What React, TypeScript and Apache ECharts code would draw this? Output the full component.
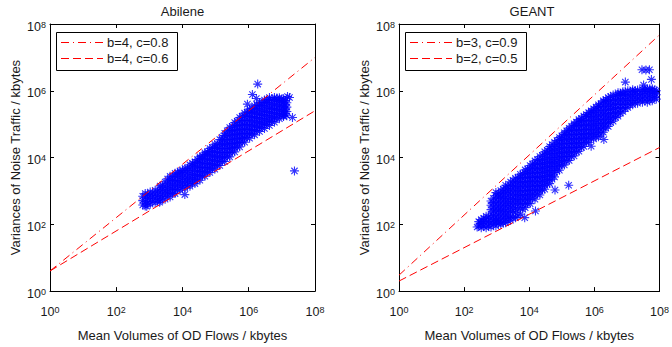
import React, { useEffect, useRef } from "react";
import * as echarts from "echarts";

// ---- data (log10 units) ----
// columns: [log10(mean volume), [log10(variance) ...]]
const abileneColumns: [number, number[]][] = [
  [2.8, [2.58, 2.71, 2.84]],
  [2.95, [2.64, 2.77, 2.9]],
  [3.1, [2.68, 2.81, 2.94]],
  [3.25, [2.73, 2.86, 2.99]],
  [3.4, [2.78, 2.91, 3.04, 3.17]],
  [3.55, [2.84, 2.97, 3.1, 3.23, 3.36]],
  [3.7, [2.92, 3.05, 3.18, 3.31, 3.44]],
  [3.85, [3.04, 3.17, 3.3, 3.43, 3.54]],
  [4.0, [3.11, 3.24, 3.37, 3.5, 3.61]],
  [4.15, [3.16, 3.29, 3.42, 3.55, 3.68]],
  [4.3, [3.23, 3.36, 3.49, 3.62, 3.75, 3.83]],
  [4.45, [3.33, 3.46, 3.59, 3.72, 3.85, 3.94]],
  [4.6, [3.44, 3.57, 3.7, 3.83, 3.96, 4.05]],
  [4.75, [3.56, 3.69, 3.82, 3.95, 4.08, 4.17]],
  [4.9, [3.66, 3.79, 3.92, 4.05, 4.18, 4.31]],
  [5.05, [3.76, 3.89, 4.02, 4.15, 4.28, 4.41]],
  [5.2, [3.88, 4.01, 4.14, 4.27, 4.4, 4.53, 4.61]],
  [5.35, [4.02, 4.15, 4.28, 4.41, 4.54, 4.67, 4.8]],
  [5.5, [4.16, 4.29, 4.42, 4.55, 4.68, 4.81, 4.94]],
  [5.65, [4.31, 4.44, 4.57, 4.7, 4.83, 4.96, 5.09]],
  [5.8, [4.46, 4.59, 4.72, 4.85, 4.98, 5.11, 5.24]],
  [5.95, [4.6, 4.73, 4.86, 4.99, 5.12, 5.25, 5.36]],
  [6.1, [4.71, 4.84, 4.97, 5.1, 5.23, 5.36, 5.47]],
  [6.25, [4.81, 4.94, 5.07, 5.2, 5.33, 5.46, 5.57]],
  [6.4, [4.9, 5.03, 5.16, 5.29, 5.42, 5.55, 5.65]],
  [6.55, [4.99, 5.12, 5.25, 5.38, 5.51, 5.64, 5.73]],
  [6.7, [5.08, 5.21, 5.34, 5.47, 5.6, 5.73]],
  [6.85, [5.18, 5.31, 5.44, 5.57, 5.7, 5.78]],
  [7.0, [5.27, 5.4, 5.53, 5.66, 5.75]],
  [7.1, [5.32, 5.45, 5.58, 5.71]],
];
const abileneColumnsMid: [number, number[]][] = [
  [2.875, [2.55, 2.68, 2.81, 2.92]],
  [3.025, [2.6, 2.73, 2.86, 2.97]],
  [3.175, [2.65, 2.78, 2.91, 3.02]],
  [3.325, [2.7, 2.83, 2.96, 3.09, 3.15]],
  [3.475, [2.75, 2.88, 3.01, 3.14, 3.27]],
  [3.625, [2.82, 2.95, 3.08, 3.21, 3.34, 3.44]],
  [3.775, [2.92, 3.05, 3.18, 3.31, 3.44, 3.53]],
  [3.925, [3.02, 3.15, 3.28, 3.41, 3.54, 3.6]],
  [4.075, [3.08, 3.21, 3.34, 3.47, 3.6, 3.68]],
  [4.225, [3.14, 3.27, 3.4, 3.53, 3.66, 3.78]],
  [4.375, [3.22, 3.35, 3.48, 3.61, 3.74, 3.87]],
  [4.525, [3.32, 3.45, 3.58, 3.71, 3.84, 3.97, 4.02]],
  [4.675, [3.44, 3.57, 3.7, 3.83, 3.96, 4.09, 4.14]],
  [4.825, [3.55, 3.68, 3.81, 3.94, 4.07, 4.2, 4.27]],
  [4.975, [3.65, 3.78, 3.91, 4.04, 4.17, 4.3, 4.4]],
  [5.125, [3.76, 3.89, 4.02, 4.15, 4.28, 4.41, 4.54]],
  [5.275, [3.88, 4.01, 4.14, 4.27, 4.4, 4.53, 4.66, 4.73]],
  [5.425, [4.02, 4.15, 4.28, 4.41, 4.54, 4.67, 4.8, 4.9]],
  [5.575, [4.17, 4.3, 4.43, 4.56, 4.69, 4.82, 4.95, 5.05]],
  [5.725, [4.32, 4.45, 4.58, 4.71, 4.84, 4.97, 5.1, 5.2]],
  [5.875, [4.46, 4.59, 4.72, 4.85, 4.98, 5.11, 5.24, 5.33]],
  [6.025, [4.58, 4.71, 4.84, 4.97, 5.1, 5.23, 5.36, 5.45]],
  [6.175, [4.68, 4.81, 4.94, 5.07, 5.2, 5.33, 5.46, 5.55]],
  [6.325, [4.78, 4.91, 5.04, 5.17, 5.3, 5.43, 5.56, 5.64]],
  [6.475, [4.87, 5.0, 5.13, 5.26, 5.39, 5.52, 5.65, 5.72]],
  [6.625, [4.96, 5.09, 5.22, 5.35, 5.48, 5.61, 5.74, 5.8]],
  [6.775, [5.06, 5.19, 5.32, 5.45, 5.58, 5.71, 5.8]],
  [6.925, [5.16, 5.29, 5.42, 5.55, 5.68, 5.79]],
  [7.05, [5.25, 5.38, 5.51, 5.64, 5.76]],
  [7.15, [5.25, 5.38, 5.51, 5.64]],
];
const abileneOutliers: [number, number][] = [
  [6.27, 6.2], [6.11, 5.89], [6.23, 5.77], [5.96, 5.6], [7.38, 3.6],
  [7.23, 5.8], [7.32, 5.2], [7.05, 5.23], [4.07, 2.89], [2.92, 2.54],
  [3.31, 2.66], [7.17, 5.83],
];

const geantColumns: [number, number[]][] = [
  [2.45, [1.95, 2.08]],
  [2.6, [1.95, 2.08, 2.18]],
  [2.75, [1.95, 2.08, 2.21]],
  [2.9, [2.0, 2.13, 2.26, 2.39, 2.52, 2.65, 2.78]],
  [3.05, [2.02, 2.15, 2.28, 2.41, 2.54, 2.67, 2.8, 2.92]],
  [3.2, [2.05, 2.18, 2.31, 2.44, 2.57, 2.7, 2.83, 2.96, 3.06]],
  [3.35, [2.1, 2.23, 2.36, 2.49, 2.62, 2.75, 2.88, 3.01, 3.14]],
  [3.5, [2.2, 2.4, 2.55, 2.68, 2.81, 2.94, 3.07, 3.2, 3.32]],
  [3.65, [2.25, 2.45, 2.62, 2.75, 2.88, 3.01, 3.14, 3.27, 3.4]],
  [3.8, [2.45, 2.6, 2.73, 2.86, 2.99, 3.12, 3.25, 3.38, 3.51]],
  [3.95, [2.62, 2.75, 2.88, 3.01, 3.14, 3.27, 3.4, 3.53, 3.66]],
  [4.1, [2.78, 2.91, 3.04, 3.17, 3.3, 3.43, 3.56, 3.69, 3.81]],
  [4.25, [2.9, 3.03, 3.16, 3.29, 3.42, 3.55, 3.68, 3.81, 3.94]],
  [4.4, [3.03, 3.16, 3.29, 3.42, 3.55, 3.68, 3.81, 3.94, 4.07]],
  [4.55, [3.2, 3.33, 3.46, 3.59, 3.72, 3.85, 3.98, 4.11, 4.22]],
  [4.7, [3.35, 3.48, 3.61, 3.74, 3.87, 4.0, 4.13, 4.26, 4.39]],
  [4.85, [3.6, 3.73, 3.86, 3.99, 4.12, 4.25, 4.38, 4.51]],
  [5.0, [3.77, 3.9, 4.03, 4.16, 4.29, 4.42, 4.55, 4.65]],
  [5.15, [3.9, 4.03, 4.16, 4.29, 4.42, 4.55, 4.68, 4.8]],
  [5.3, [4.03, 4.16, 4.29, 4.42, 4.55, 4.68, 4.81, 4.94]],
  [5.45, [4.17, 4.3, 4.43, 4.56, 4.69, 4.82, 4.95, 5.06]],
  [5.6, [4.3, 4.43, 4.56, 4.69, 4.82, 4.95, 5.08, 5.17]],
  [5.75, [4.45, 4.58, 4.71, 4.84, 4.97, 5.1, 5.23, 5.29]],
  [5.9, [4.58, 4.71, 4.84, 4.97, 5.1, 5.23, 5.36, 5.4]],
  [6.05, [4.63, 4.76, 4.89, 5.02, 5.15, 5.28, 5.41, 5.51]],
  [6.2, [4.7, 4.83, 4.96, 5.09, 5.22, 5.35, 5.48, 5.61]],
  [6.35, [4.88, 5.01, 5.14, 5.27, 5.4, 5.53, 5.66, 5.74]],
  [6.5, [5.05, 5.18, 5.31, 5.44, 5.57, 5.7, 5.83]],
  [6.65, [5.2, 5.33, 5.46, 5.59, 5.72, 5.85]],
  [6.8, [5.33, 5.46, 5.59, 5.72, 5.85, 5.92]],
  [6.95, [5.46, 5.59, 5.72, 5.85, 5.97]],
  [7.1, [5.58, 5.71, 5.84, 5.97]],
  [7.25, [5.65, 5.78, 5.91, 6.0]],
  [7.4, [5.72, 5.85, 5.98]],
  [7.55, [5.72, 5.85, 5.98, 6.05]],
  [7.7, [5.72, 5.85, 5.98, 6.06]],
  [7.85, [5.8, 5.93, 6.02]],
];
const geantColumnsMid: [number, number[]][] = [
  [2.525, [1.9, 2.02, 2.14]],
  [2.675, [1.9, 2.02, 2.15, 2.24]],
  [2.825, [1.92, 2.05, 2.18, 2.31, 2.44, 2.57, 2.7]],
  [2.975, [1.95, 2.08, 2.21, 2.34, 2.47, 2.6, 2.73, 2.86, 2.95]],
  [3.125, [2.0, 2.12, 2.25, 2.38, 2.51, 2.64, 2.77, 2.9, 3.01]],
  [3.275, [2.05, 2.17, 2.3, 2.43, 2.56, 2.69, 2.82, 2.95, 3.08, 3.17]],
  [3.425, [2.12, 2.25, 2.38, 2.51, 2.64, 2.77, 2.9, 3.03, 3.16, 3.27]],
  [3.575, [2.2, 2.35, 2.48, 2.61, 2.74, 2.87, 3.0, 3.13, 3.26, 3.38]],
  [3.725, [2.3, 2.5, 2.63, 2.76, 2.89, 3.02, 3.15, 3.28, 3.41, 3.5]],
  [3.875, [2.5, 2.63, 2.76, 2.89, 3.02, 3.15, 3.28, 3.41, 3.54, 3.63]],
  [4.025, [2.62, 2.75, 2.88, 3.01, 3.14, 3.27, 3.4, 3.53, 3.66, 3.76]],
  [4.175, [2.75, 2.88, 3.01, 3.14, 3.27, 3.4, 3.53, 3.66, 3.79, 3.9]],
  [4.325, [2.88, 3.01, 3.14, 3.27, 3.4, 3.53, 3.66, 3.79, 3.92, 4.03]],
  [4.475, [3.05, 3.18, 3.31, 3.44, 3.57, 3.7, 3.83, 3.96, 4.09, 4.17]],
  [4.625, [3.22, 3.35, 3.48, 3.61, 3.74, 3.87, 4.0, 4.13, 4.26, 4.33]],
  [4.775, [3.42, 3.55, 3.68, 3.81, 3.94, 4.07, 4.2, 4.33, 4.46]],
  [4.925, [3.62, 3.75, 3.88, 4.01, 4.14, 4.27, 4.4, 4.53, 4.6]],
  [5.075, [3.78, 3.91, 4.04, 4.17, 4.3, 4.43, 4.56, 4.69, 4.74]],
  [5.225, [3.91, 4.04, 4.17, 4.3, 4.43, 4.56, 4.69, 4.82, 4.88]],
  [5.375, [4.05, 4.18, 4.31, 4.44, 4.57, 4.7, 4.83, 4.96, 5.01]],
  [5.525, [4.19, 4.32, 4.45, 4.58, 4.71, 4.84, 4.97, 5.1, 5.14]],
  [5.675, [4.33, 4.46, 4.59, 4.72, 4.85, 4.98, 5.11, 5.24]],
  [5.825, [4.46, 4.59, 4.72, 4.85, 4.98, 5.11, 5.24, 5.35]],
  [5.975, [4.56, 4.69, 4.82, 4.95, 5.08, 5.21, 5.34, 5.46]],
  [6.125, [4.62, 4.75, 4.88, 5.01, 5.14, 5.27, 5.4, 5.53, 5.58]],
  [6.275, [4.76, 4.89, 5.02, 5.15, 5.28, 5.41, 5.54, 5.67, 5.7]],
  [6.425, [4.93, 5.06, 5.19, 5.32, 5.45, 5.58, 5.71, 5.8]],
  [6.575, [5.09, 5.22, 5.35, 5.48, 5.61, 5.74, 5.87]],
  [6.725, [5.24, 5.37, 5.5, 5.63, 5.76, 5.89, 5.94]],
  [6.875, [5.38, 5.51, 5.64, 5.77, 5.9, 5.97]],
  [7.025, [5.5, 5.63, 5.76, 5.89, 6.0]],
  [7.175, [5.58, 5.71, 5.84, 5.97, 6.03]],
  [7.325, [5.63, 5.76, 5.89, 6.02]],
  [7.475, [5.66, 5.79, 5.92, 6.04]],
  [7.625, [5.66, 5.79, 5.92, 6.05]],
  [7.775, [5.7, 5.83, 5.96, 6.06]],
  [7.9, [5.75, 5.88, 6.0]],
];
const geantOutliers: [number, number][] = [
  [7.46, 6.63], [7.69, 6.63], [7.58, 6.62], [7.75, 6.34], [6.95, 6.26],
  [7.51, 6.17], [6.29, 4.54], [5.9, 4.34], [5.21, 3.17], [4.79, 3.03],
  [4.19, 2.4], [3.86, 2.2], [2.51, 2.03], [2.4, 1.92], [2.99, 2.11],
];

// model lines y = b * x^c, endpoints at x = 1 and x = 1e8
const abileneDashDot: [number, number][] = [[1, 4], [1e8, 1.0e7]];
const abileneDashed: [number, number][] = [[1, 4], [1e8, 2.52e5]];
const geantDashDot: [number, number][] = [[1, 3], [1e8, 4.75e7]];
const geantDashed: [number, number][] = [[1, 2], [1e8, 2.0e4]];

const titles = ["Abilene", "GEANT"];
const legendLabels = [
  ["b=4, c=0.8", "b=4, c=0.6"],
  ["b=3, c=0.9", "b=2, c=0.5"],
];
const xName = "Mean Volumes of OD Flows / kbytes";
const yName = "Variances of Noise Traffic / kbytes";

// ---- styles ----
const FONT = "'Liberation Sans', Arial, Helvetica, sans-serif";
const TXT = "#1a1a1a";
const GRID_LEFTS = [50, 399];
const GRID_W = [265, 266];
const GRID_TOP = 24;
const GRID_H = 280;
const DASHDOT = [8, 4, 1, 4];
const DASHED = [8, 4];
const STAR = "path://M0,5L10,5M5,0L5,10M1.5,1.5L8.5,8.5M1.5,8.5L8.5,1.5";

function toPoints(colSets: [number, number[]][][], extra: [number, number][]) {
  const pts: number[][] = [];
  colSets.forEach((cols) =>
    cols.forEach(([lx, ys]) => ys.forEach((ly) => pts.push([Math.pow(10, lx), Math.pow(10, ly)])))
  );
  extra.forEach(([lx, ly]) => pts.push([Math.pow(10, lx), Math.pow(10, ly)]));
  return pts;
}

const labelRich = {
  b: { fontSize: 12.5, fontFamily: FONT, color: TXT, verticalAlign: "bottom", lineHeight: 13 },
  e: { fontSize: 9, fontFamily: FONT, color: TXT, verticalAlign: "top", lineHeight: 9, padding: [0, 0, 10, 0] },
};
const powFmt = (v: number) => `{b|10}{e|${Math.round(Math.log10(v))}}`;

function makeAxis(gridIndex: number, pos: string, main: boolean, isX: boolean) {
  const a: any = {
    gridIndex,
    type: "log",
    logBase: 10,
    min: 1,
    max: 1e8,
    interval: 2,
    position: pos,
    axisLine: { show: true, onZero: false, lineStyle: { color: "#000", width: 1 } },
    axisTick: { show: true, inside: true, length: 4, lineStyle: { color: "#000", width: 1 } },
    splitLine: { show: false },
    minorTick: { show: false },
    axisLabel: main
      ? {
          show: true,
          formatter: powFmt,
          rich: labelRich,
          margin: isX ? 14 : 4,
          padding: isX ? 0 : [5, 0, 0, 0],
        }
      : { show: false },
  };
  if (main) {
    a.name = isX ? xName : yName;
    a.nameLocation = "middle";
    a.nameGap = isX ? 24 : 28;
    a.nameTextStyle = { fontSize: 13, fontFamily: FONT, color: TXT };
  }
  return a;
}

function legendGraphics(gi: number) {
  const gl = GRID_LEFTS[gi];
  const els: any[] = [];
  els.push({
    type: "rect",
    z: 100,
    shape: { x: gl + 6.5, y: 32.5, width: 121, height: 38 },
    style: { fill: "#fff", stroke: "#000", lineWidth: 1 },
  });
  const ys = [42.5, 58.5];
  const dashes = [DASHDOT, DASHED];
  for (let i = 0; i < 2; i++) {
    els.push({
      type: "line",
      z: 101,
      shape: { x1: gl + 11, y1: ys[i], x2: gl + 53, y2: ys[i] },
      style: { stroke: "#ff0000", lineWidth: 1, lineDash: dashes[i] },
    });
    els.push({
      type: "text",
      z: 101,
      x: gl + 57,
      y: ys[i],
      style: {
        text: legendLabels[gi][i],
        fontSize: 13,
        fontFamily: FONT,
        fill: TXT,
        align: "left",
        verticalAlign: "middle",
      },
    });
  }
  els.push({
    type: "text",
    z: 101,
    x: gl + GRID_W[gi] / 2,
    y: 11,
    style: {
      text: titles[gi],
      fontSize: 13,
      fontFamily: FONT,
      fill: TXT,
      align: "center",
      verticalAlign: "middle",
    },
  });
  return els;
}

export default function App() {
  const ref = useRef<HTMLDivElement>(null);
  useEffect(() => {
    if (!ref.current) return;
    const chart = echarts.init(ref.current, undefined, { renderer: "svg" });
    const scatterStyle = {
      color: "rgba(0,0,0,0)",
      borderColor: "#0000ff",
      borderWidth: 1.1,
    };
    const mkScatter = (idx: number, data: number[][]) => ({
      type: "scatter",
      xAxisIndex: idx * 2,
      yAxisIndex: idx * 2,
      data,
      symbol: STAR,
      symbolSize: 9,
      itemStyle: scatterStyle,
      silent: true,
      z: 2,
    });
    const mkLine = (idx: number, data: number[][], dash: number[]) => ({
      type: "line",
      xAxisIndex: idx * 2,
      yAxisIndex: idx * 2,
      data,
      showSymbol: false,
      symbol: "none",
      silent: true,
      lineStyle: { color: "#ff0000", width: 1, type: dash },
      z: 3,
    });
    const option: any = {
      animation: false,
      grid: [0, 1].map((i) => ({
        left: GRID_LEFTS[i],
        top: GRID_TOP,
        width: GRID_W[i],
        height: GRID_H,
        containLabel: false,
      })),
      xAxis: [
        makeAxis(0, "bottom", true, true),
        makeAxis(0, "top", false, true),
        makeAxis(1, "bottom", true, true),
        makeAxis(1, "top", false, true),
      ],
      yAxis: [
        makeAxis(0, "left", true, false),
        makeAxis(0, "right", false, false),
        makeAxis(1, "left", true, false),
        makeAxis(1, "right", false, false),
      ],
      series: [
        mkScatter(0, toPoints([abileneColumns, abileneColumnsMid], abileneOutliers)),
        mkLine(0, abileneDashDot, DASHDOT),
        mkLine(0, abileneDashed, DASHED),
        mkScatter(1, toPoints([geantColumns, geantColumnsMid], geantOutliers)),
        mkLine(1, geantDashDot, DASHDOT),
        mkLine(1, geantDashed, DASHED),
      ],
      graphic: [...legendGraphics(0), ...legendGraphics(1)],
    };
    chart.setOption(option);
    return () => chart.dispose();
  }, []);
  return (
    <div
      ref={ref}
      style={{ position: "absolute", left: 0, top: 0, width: 672, height: 347, background: "#fff" }}
    />
  );
}
